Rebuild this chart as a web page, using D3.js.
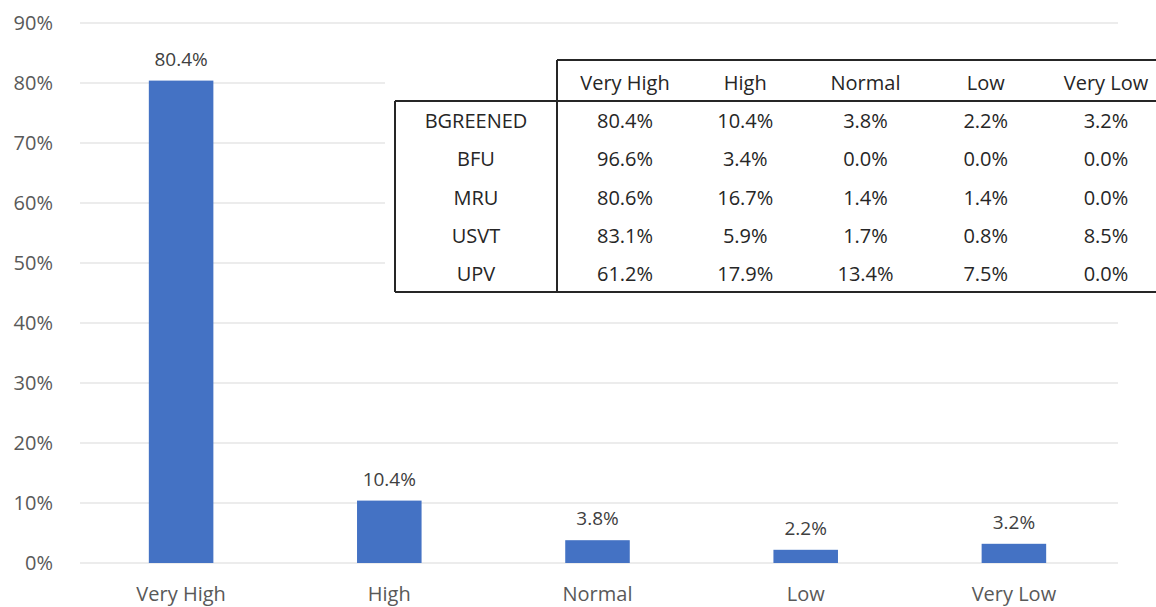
<!DOCTYPE html>
<html>
<head>
<meta charset="utf-8">
<script src="https://cdn.jsdelivr.net/npm/d3@7"></script>
<style>
  body { margin: 0; background: #fff; }
  text { font-family: "Open Sans", "Noto Sans", sans-serif; }
</style>
</head>
<body>
<div id="chart"></div>
<script>
const categories = ["Very High", "High", "Normal", "Low", "Very Low"];
const shares = [80.4, 10.4, 3.8, 2.2, 3.2];
const yTicks = [0, 10, 20, 30, 40, 50, 60, 70, 80, 90];

// table of results per university
const universities = ["BGREENED", "BFU", "MRU", "USVT", "UPV"];
const bgreened = [80.4, 10.4, 3.8, 2.2, 3.2];
const bfu = [96.6, 3.4, 0.0, 0.0, 0.0];
const mru = [80.6, 16.7, 1.4, 1.4, 0.0];
const usvt = [83.1, 5.9, 1.7, 0.8, 8.5];
const upv = [61.2, 17.9, 13.4, 7.5, 0.0];
const tableRows = [bgreened, bfu, mru, usvt, upv];

const width = 1156;
const height = 607;

const svg = d3.select("#chart")
  .append("svg")
  .attr("width", width)
  .attr("height", height);

const x = d3.scaleBand()
  .domain(categories)
  .range([77, 1118])
  .paddingInner(0.69)
  .paddingOuter(0.345);

const y = d3.scaleLinear()
  .domain([0, 90])
  .range([563, 23]);

// gridlines
svg.append("g")
  .selectAll("line")
  .data(yTicks)
  .enter()
  .append("line")
  .attr("x1", 80)
  .attr("x2", 1118)
  .attr("y1", d => y(d))
  .attr("y2", d => y(d))
  .style("stroke", "#d9d9d9")
  .style("stroke-width", 1);

// y axis labels
svg.append("g")
  .selectAll("text")
  .data(yTicks)
  .enter()
  .append("text")
  .attr("x", 53)
  .attr("y", d => y(d))
  .attr("dy", "0.35em")
  .attr("text-anchor", "end")
  .style("font-size", "20px")
  .style("fill", "#595959")
  .text(d => d + "%");

// bars
svg.append("g")
  .selectAll("rect")
  .data(shares)
  .enter()
  .append("rect")
  .attr("x", (d, i) => x(categories[i]))
  .attr("y", d => y(d))
  .attr("width", x.bandwidth())
  .attr("height", d => y(0) - y(d))
  .style("fill", "#4472C4");

// bar labels
svg.append("g")
  .selectAll("text")
  .data(shares)
  .enter()
  .append("text")
  .attr("x", (d, i) => x(categories[i]) + x.bandwidth() / 2)
  .attr("y", d => y(d) - 15)
  .attr("text-anchor", "middle")
  .style("font-size", "19px")
  .style("fill", "#404040")
  .text(d => d.toFixed(1) + "%");

// category labels
svg.append("g")
  .selectAll("text")
  .data(categories)
  .enter()
  .append("text")
  .attr("x", d => x(d) + x.bandwidth() / 2)
  .attr("y", 601)
  .attr("text-anchor", "middle")
  .style("font-size", "20px")
  .style("fill", "#595959")
  .text(d => d);

// table overlay
const table = svg.append("g");

const col = d3.scalePoint()
  .domain(categories)
  .range([625, 1106]);

const row = d3.scaleBand()
  .domain(universities)
  .range([101, 292]);

const tLeft = 395, tDivider = 557, tTop = 60, tHeadBottom = 101, tBottom = 292;

table.append("rect")
  .attr("x", 385)
  .attr("y", 54)
  .attr("width", width - 385)
  .attr("height", 244)
  .style("fill", "#fff");

const border = [
  [tDivider, tTop, width, tTop],
  [tLeft, tHeadBottom, width, tHeadBottom],
  [tLeft, tBottom, width, tBottom],
  [tLeft, tHeadBottom, tLeft, tBottom],
  [tDivider, tTop, tDivider, tBottom]
];

table.selectAll("line")
  .data(border)
  .enter()
  .append("line")
  .attr("x1", d => d[0])
  .attr("y1", d => d[1])
  .attr("x2", d => d[2])
  .attr("y2", d => d[3])
  .style("stroke", "#262626")
  .style("stroke-width", 2);

table.append("g")
  .selectAll("text")
  .data(categories)
  .enter()
  .append("text")
  .attr("x", d => col(d))
  .attr("y", (tTop + tHeadBottom) / 2 + 2)
  .attr("dy", "0.35em")
  .attr("text-anchor", "middle")
  .style("font-size", "20px")
  .style("fill", "#262626")
  .text(d => d);

table.append("g")
  .selectAll("text")
  .data(universities)
  .enter()
  .append("text")
  .attr("x", (tLeft + tDivider) / 2)
  .attr("y", d => row(d) + row.bandwidth() / 2 + 1)
  .attr("dy", "0.35em")
  .attr("text-anchor", "middle")
  .style("font-size", "20px")
  .style("fill", "#262626")
  .text(d => d);

tableRows.forEach((vals, r) => {
  table.append("g")
    .selectAll("text")
    .data(vals)
    .enter()
    .append("text")
    .attr("x", (d, i) => col(categories[i]))
    .attr("y", row(universities[r]) + row.bandwidth() / 2 + 1)
    .attr("dy", "0.35em")
    .attr("text-anchor", "middle")
    .style("font-size", "20px")
    .style("fill", "#262626")
    .text(d => d.toFixed(1) + "%");
});
</script>
</body>
</html>
